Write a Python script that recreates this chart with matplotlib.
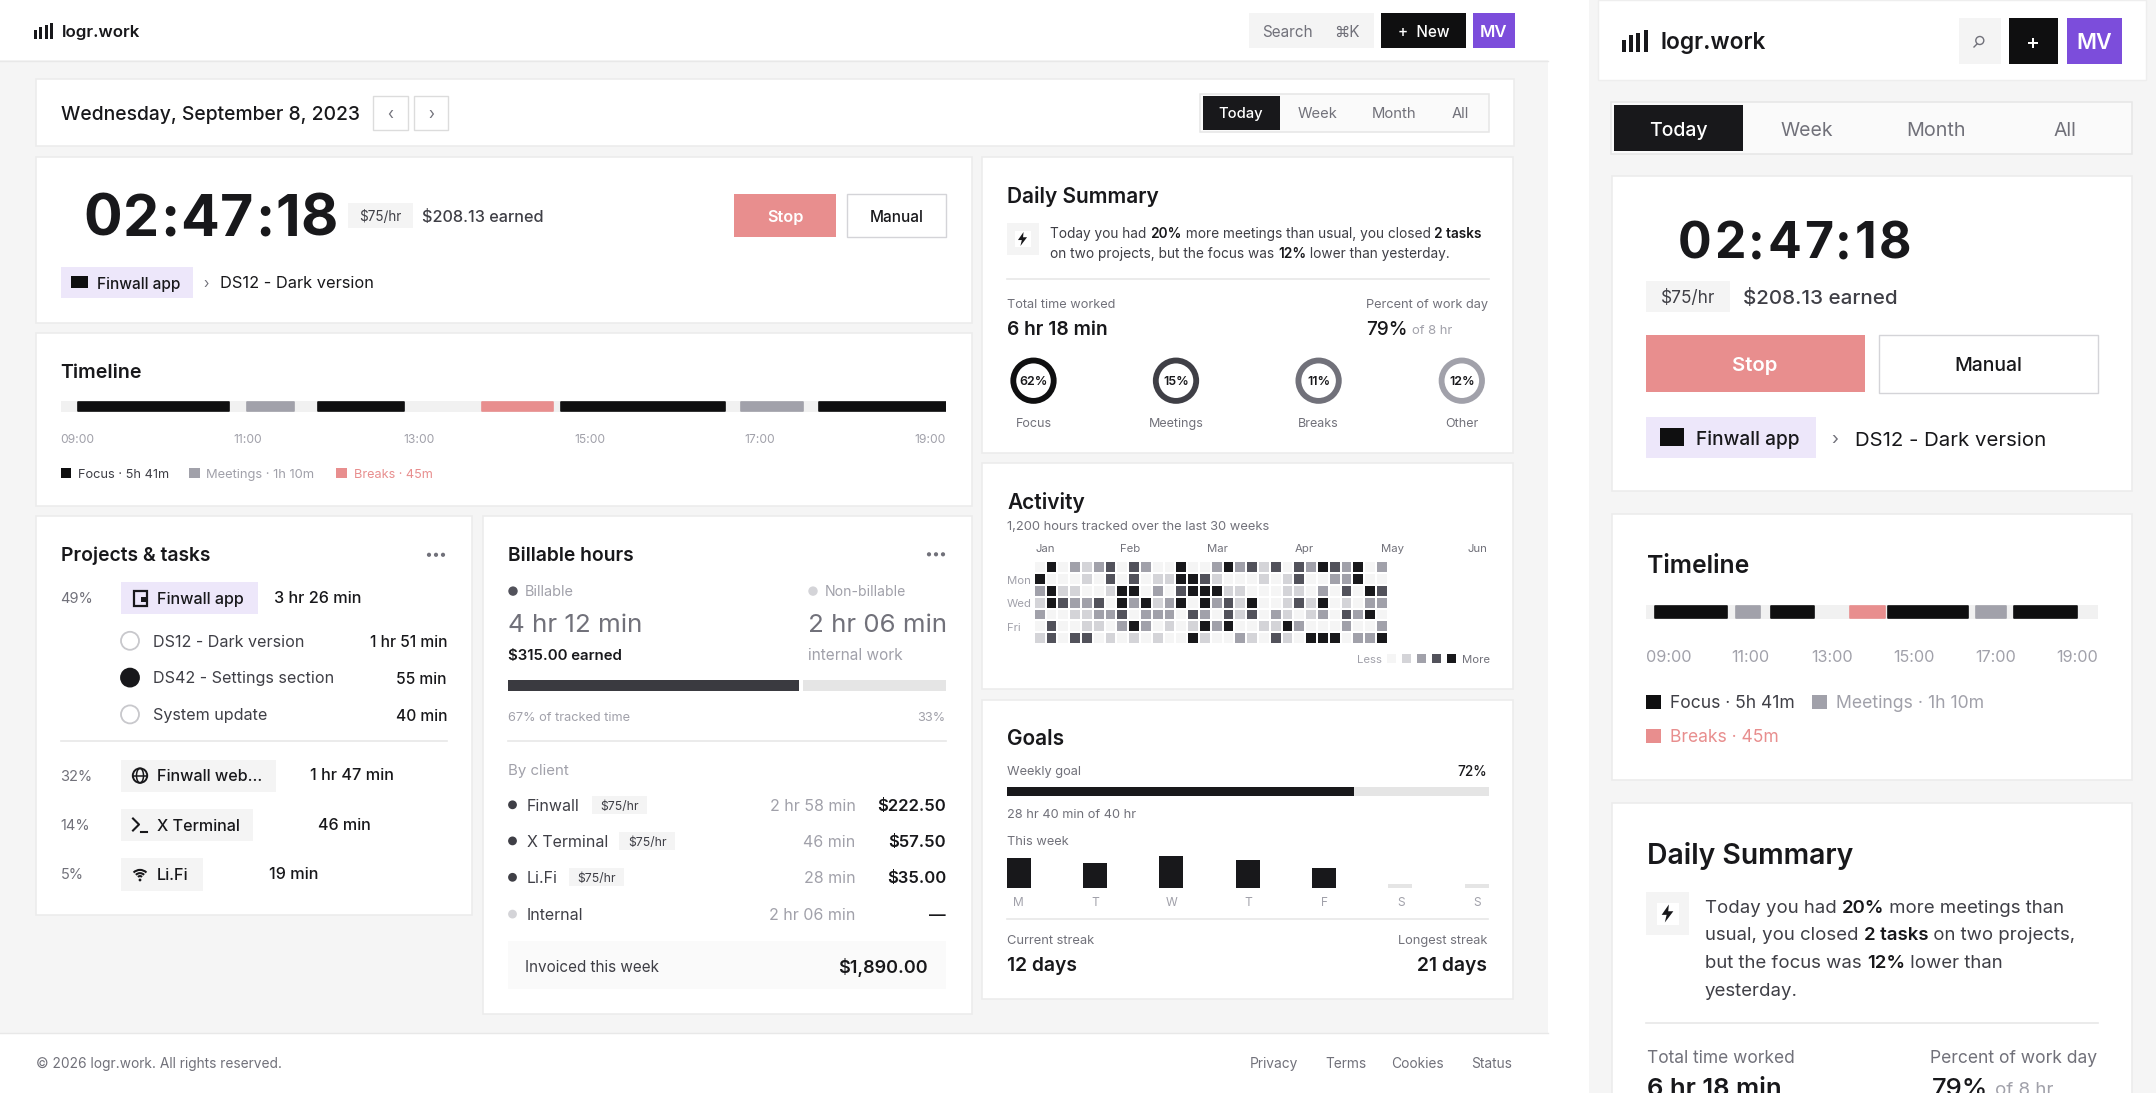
import numpy as np
import matplotlib
matplotlib.use("Agg")
import matplotlib.pyplot as plt
from matplotlib.colors import ListedColormap
from matplotlib.patches import Rectangle, Circle, Polygon, Arc, FancyBboxPatch

plt.rcParams['font.family'] = ['Inter', 'DejaVu Sans']

W, H = 2156, 1093
INK = '#18181b'
BODY = '#3f3f46'
MUTED = '#71717a'
LIGHT = '#a1a1aa'
BORDER = '#ececec'
PAGE = '#f5f5f5'
LILAC = '#ede7fa'
RED = '#e88e8e'
PURPLE = '#7c4ddb'

# timeline, in hours of the day
segment_kinds = ['focus', 'meeting', 'focus', 'break', 'focus', 'meeting', 'focus']
wide_starts = [9.20, 11.11, 11.91, 13.76, 14.65, 16.68, 17.56]
wide_ends = [10.90, 11.64, 12.88, 14.56, 16.50, 17.38, 19.00]
narrow_starts = [9.19, 11.00, 11.77, 13.52, 14.35, 16.30, 17.14]
narrow_ends = [10.80, 11.52, 12.71, 14.29, 16.13, 16.97, 18.55]
hour_labels = ['09:00', '11:00', '13:00', '15:00', '17:00', '19:00']
kind_colors = {'focus': '#0f0f10', 'meeting': LIGHT, 'break': RED}

# daily summary rings
ring_values = [62, 15, 11, 12]
ring_names = ['Focus', 'Meetings', 'Breaks', 'Other']
ring_colors = ['#0f0f10', '#3f3f46', '#71717a', '#a1a1aa']

# activity levels, one row per weekday, one column per week
activity = np.array([
    [0, 4, 0, 2, 1, 2, 3, 0, 3, 2, 0, 0, 4, 0, 0, 2, 4, 2, 3, 1, 3, 0, 3, 2, 4, 3, 2, 4, 0, 2],
    [4, 0, 0, 0, 1, 0, 3, 0, 3, 0, 1, 1, 4, 4, 3, 1, 0, 0, 0, 1, 0, 1, 3, 0, 0, 2, 2, 4, 0, 0],
    [2, 4, 1, 1, 0, 0, 1, 4, 4, 0, 2, 0, 3, 4, 4, 4, 1, 1, 0, 0, 0, 1, 1, 0, 2, 0, 3, 0, 4, 3],
    [1, 4, 3, 2, 2, 3, 0, 4, 2, 4, 1, 2, 4, 0, 4, 2, 3, 1, 4, 0, 0, 1, 3, 1, 4, 0, 1, 0, 2, 2],
    [2, 0, 0, 1, 1, 2, 2, 3, 0, 2, 2, 2, 0, 3, 2, 0, 3, 1, 3, 0, 2, 1, 0, 1, 2, 0, 3, 2, 4, 0],
    [0, 3, 0, 0, 1, 1, 0, 2, 4, 2, 0, 1, 0, 1, 4, 2, 4, 0, 0, 1, 1, 4, 2, 0, 0, 0, 2, 0, 0, 2],
    [1, 3, 0, 3, 3, 0, 1, 0, 1, 0, 1, 0, 0, 4, 1, 0, 0, 2, 1, 0, 3, 1, 0, 4, 4, 4, 0, 2, 2, 4],
])
level_colors = ['#f5f5f5', '#d4d4d8', '#a1a1aa', '#52525b', '#18181b']
month_names = ['Jan', 'Feb', 'Mar', 'Apr', 'May', 'Jun']
month_x = [1035, 1120.4, 1207.5, 1295, 1380.7, 1487]

# goals
week_days = ['M', 'T', 'W', 'T', 'F', 'S', 'S']
week_hours = [6.9, 5.9, 7.4, 6.4, 4.7, 1.0, 1.0]
goal_percent = 72

# billable
billable_percent = 67
client_names = ['Finwall', 'X Terminal', 'Li.Fi', 'Internal']
client_times = ['2 hr 58 min', '46 min', '28 min', '2 hr 06 min']
client_amounts = ['$222.50', '$57.50', '$35.00', '—']

fig = plt.figure(figsize=(W / 100, H / 100), dpi=100, facecolor='white')
ax = fig.add_axes([0, 0, 1, 1])
ax.set_xlim(0, W)
ax.set_ylim(H, 0)
ax.axis('off')


def box(x0, y0, x1, y1, color='white', edge=None, lw=1.0, z=1, a=ax):
    a.add_patch(Rectangle((x0, y0), x1 - x0, y1 - y0, facecolor=color,
                          edgecolor=edge if edge else 'none', linewidth=lw, zorder=z))


def card(x0, y0, x1, y1):
    box(x0, y0, x1, y1, 'white', BORDER, 1.2)


def label(x, yc, s, size, color=INK, weight='normal', ha='left'):
    # yc is the middle of the capital letters
    base = yc + 0.3636 * size / 0.72
    return ax.text(x, base, s, fontsize=size, color=color, fontweight=weight,
                   ha=ha, va='baseline', zorder=5)


def rich(x, yc, parts, size, color=BODY):
    rend = fig.canvas.get_renderer()
    for s, bold in parts:
        t = label(x, yc, s, size, INK if bold else color, 'semibold' if bold else 'normal')
        x += t.get_window_extent(rend).width


def spaced(x, yc, s, size, gap, weight='bold'):
    # timer digits have a little letter spacing
    rend = fig.canvas.get_renderer()
    for ch in s:
        t = label(x, yc, ch, size, INK, weight)
        x += t.get_window_extent(rend).width + gap


def sub_axes(x0, y0, x1, y1, xlim, ylim):
    a = fig.add_axes([x0 / W, 1 - y1 / H, (x1 - x0) / W, (y1 - y0) / H])
    a.set_xlim(*xlim)
    a.set_ylim(*ylim)
    a.axis('off')
    a.patch.set_alpha(0)
    return a


def logo(x, y, scale):
    for i, h in enumerate([9, 12, 14, 16]):
        box(x + i * 5.4 * scale, y + (16 - h) * scale, x + (i * 5.4 + 3) * scale, y + 16 * scale, INK, z=4)


def timeline(x0, x1, y0, y1, starts, ends):
    a = sub_axes(x0, y0, x1, y1, (9, 19), (0, 1))
    a.add_patch(FancyBboxPatch((9, 0), 10, 1, boxstyle='square,pad=0', facecolor='#f1f1f1', edgecolor='none'))
    for s, e, k in zip(starts, ends, segment_kinds):
        a.barh(0.5, e - s, left=s, height=0.86, color=kind_colors[k],
               edgecolor=kind_colors[k], linewidth=1.2, joinstyle='round')


def bolt(cx, cy, s):
    pts = [(0.15, -1), (-0.65, 0.15), (-0.1, 0.15), (-0.3, 1), (0.65, -0.25), (0.08, -0.25)]
    ax.add_patch(Polygon([(cx + px * s, cy + py * s) for px, py in pts], facecolor=INK, zorder=5))


def dots(x, y):
    for i in range(3):
        ax.add_patch(Circle((x + i * 7, y), 2.1, facecolor=MUTED, zorder=5))


# page backgrounds
box(0, 0, 1548, H, PAGE, z=0)
box(1588.5, 0, W, H, PAGE, z=0)

# ---- wide layout ----
box(0, 0, 1548, 60, 'white', z=1)
ax.plot([0, 1548], [60.5, 60.5], color='#e8e8e8', lw=1, zorder=2)
logo(34, 23, 1.0)
label(62, 31, 'logr.work', 12.2, INK, 'semibold')

box(1249, 13, 1374, 48, '#f4f4f4')
label(1262, 31, 'Search', 11, MUTED)
label(1360, 31, '⌘K', 11, MUTED, ha='right')
box(1381.4, 13, 1466, 48, '#0f0f10')
label(1423.5, 31, '+  New', 11, 'white', 'medium', 'center')
box(1472.5, 13, 1514.6, 48, PURPLE)
label(1493.5, 31, 'MV', 12, 'white', 'semibold', 'center')

card(36, 79, 1514, 146)
label(60.6, 113, 'Wednesday, September 8, 2023', 13.9, INK, 'medium')
box(373, 96, 407.5, 130, 'white', '#dcdcdc', 1.0)
box(414, 96, 448, 130, 'white', '#dcdcdc', 1.0)
label(390, 113, '‹', 11, MUTED, ha='center')
label(431, 113, '›', 11, MUTED, ha='center')
box(1200.4, 93.7, 1488.6, 132, '#fafafa', '#e6e6e6', 1.1)
box(1202.7, 96, 1280, 129.7, INK, z=2)
label(1241, 113, 'Today', 10.6, 'white', 'medium', 'center')
label(1317.5, 113, 'Week', 10.6, MUTED, ha='center')
label(1393.6, 113, 'Month', 10.7, MUTED, ha='center')
label(1460, 113, 'All', 10.6, MUTED, ha='center')

# timer card
card(36, 157, 972, 323)
spaced(83.5, 215, '02:47:18', 41.3, 1.0)
box(347.5, 203, 413, 228, '#f4f4f4')
label(380, 216, '$75/hr', 9.7, BODY, ha='center')
label(422, 216, '$208.13 earned', 11.7, BODY, 'medium')
box(734, 194, 836, 237, RED)
label(785, 216, 'Stop', 11.8, 'white', 'semibold', 'center')
box(847, 194, 946, 237, 'white', '#d4d4d8', 1.0)
label(896.5, 216, 'Manual', 11, INK, 'medium', 'center')
box(60.6, 267, 192.5, 298, LILAC)
box(71, 276, 88, 288, '#0f0f10', z=3)
label(97, 283, 'Finwall app', 11.1, INK, 'medium')
label(206, 283, '›', 10, MUTED, ha='center')
label(220, 282, 'DS12 - Dark version', 11.8, INK)

# timeline card
card(36, 333, 972, 506)
label(60.6, 371, 'Timeline', 14.1, INK, 'semibold')
timeline(60.6, 946, 401, 412, wide_starts, wide_ends)
for s, x, ha in zip(hour_labels, [60.6, 247.7, 418.5, 589.5, 760, 946], ['left', 'center', 'center', 'center', 'center', 'right']):
    label(x, 439, s, 8.7, LIGHT, ha=ha)
box(60.6, 468, 71, 478, '#0f0f10')
label(77.5, 473, 'Focus · 5h 41m', 9.2, BODY)
box(189, 468, 200, 478, LIGHT)
label(206, 473, 'Meetings · 1h 10m', 9.3, LIGHT)
box(336, 468, 347, 478, RED)
label(354, 473, 'Breaks · 45m', 9.1, RED)

# projects card
card(36, 516, 472, 914.9)
label(60.6, 553.8, 'Projects & tasks', 13.9, INK, 'semibold')
dots(429, 554.8)
label(60.6, 598.1, '49%', 10.5, MUTED)
box(120.6, 582.1, 258, 614, LILAC)
box(134, 590.5, 147, 605.5, 'none', INK, 1.6, z=4)
box(141, 596.5, 147, 601.5, INK, z=4)
label(157, 598.1, 'Finwall app', 11.6, INK, 'medium')
label(274, 597.5, '3 hr 26 min', 11.7, INK, 'medium')
task_names = ['DS12 - Dark version', 'DS42 - Settings section', 'System update']
task_times = ['1 hr 51 min', '55 min', '40 min']
for i, (n, t, y) in enumerate(zip(task_names, task_times, [640.8, 677.6, 714.4])):
    ax.add_patch(Circle((130, y), 9, facecolor=INK if i == 1 else 'white',
                        edgecolor=INK if i == 1 else '#c8c8cc', lw=1.3, zorder=4))
    label(153, y, n, 11.6, BODY)
    label(447, y + 0.8, t, 11.2, INK, 'medium', 'right')
ax.plot([60.6, 447], [741.2, 741.2], color='#e8e8e8', lw=1.2, zorder=3)
label(60.6, 775.6, '32%', 10.5, MUTED)
box(120.6, 759.7, 276, 791.5, '#f4f4f4')
label(157, 775.6, 'Finwall web...', 11.6, INK, 'medium')
label(310, 774.4, '1 hr 47 min', 11.7, INK, 'medium')
ax.add_patch(Circle((140, 775.6), 7.2, facecolor='none', edgecolor=INK, lw=1.4, zorder=4))
ax.add_patch(Arc((140, 775.6), 7, 14.4, edgecolor=INK, lw=1.1, zorder=4))
ax.plot([133, 147], [775.6, 775.6], color=INK, lw=1.1, zorder=4)
label(60.6, 824.9, '14%', 10.5, MUTED)
box(120.6, 808.8, 253, 840.9, '#f4f4f4')
ax.plot([133, 139, 133], [818.5, 824.5, 830.5], color=INK, lw=1.5, zorder=4)
ax.plot([141, 147], [831.5, 831.5], color=INK, lw=1.5, zorder=4)
label(157, 824.9, 'X Terminal', 11.6, INK, 'medium')
label(317.5, 823.8, '46 min', 11.6, INK, 'medium')
label(60.6, 874, '5%', 10.5, MUTED)
box(120.6, 858.2, 202.5, 890.6, '#f4f4f4')
for r in [14, 9, 4.5]:
    ax.add_patch(Arc((140, 879), r * 1.3, r * 1.3, theta1=225, theta2=315, edgecolor=INK, lw=1.5, zorder=4))
ax.add_patch(Circle((140, 880), 1.4, facecolor=INK, zorder=4))
label(157, 874, 'Li.Fi', 11.6, INK, 'medium')
label(269, 873, '19 min', 11.7, INK, 'medium')

# billable card
card(483, 516, 972, 1014.4)
label(507.5, 553.8, 'Billable hours', 13.9, INK, 'semibold')
dots(929, 554.3)
ax.add_patch(Circle((513, 591.1), 4.7, facecolor='#52525b', zorder=4))
label(525, 591.1, 'Billable', 10.4, LIGHT)
ax.add_patch(Circle((813, 591.1), 4.7, facecolor='#d4d4d8', zorder=4))
label(825, 591.1, 'Non-billable', 10.1, LIGHT)
label(507.5, 622.4, '4 hr 12 min', 18.7, MUTED)
label(808, 622.4, '2 hr 06 min', 18.6, MUTED)
label(507.5, 654.2, '$315.00 earned', 10.8, INK, 'semibold')
label(808, 654.2, 'internal work', 11.1, LIGHT)
bill = sub_axes(507.5, 679.8, 946, 691.2, (0, 100), (0, 1))
bill.barh(0.5, billable_percent - 0.5, height=1, color='#3a3a40')
bill.barh(0.5, 100 - billable_percent - 0.5, left=billable_percent + 0.5, height=1, color='#e5e5e5')
label(507.5, 716.3, f'{billable_percent}% of tracked time', 9.2, LIGHT)
label(945, 716.3, f'{100 - billable_percent}%', 9.2, LIGHT, ha='right')
ax.plot([507.5, 946], [741.2, 741.2], color='#e8e8e8', lw=1.2, zorder=3)
label(507.5, 769.6, 'By client', 10.8, LIGHT)
row_y = [804.8, 840.9, 877.3, 914.1]
badge_x = [(592, 647), (619.4, 675), (569, 624.4), None]
for i, (n, t, a_, y, b) in enumerate(zip(client_names, client_times, client_amounts, row_y, badge_x)):
    ax.add_patch(Circle((512.5, y), 4.4, facecolor='#d4d4d8' if i == 3 else '#3f3f46', zorder=4))
    label(527, y, n, 11.5, BODY)
    if b:
        box(b[0], y - 9, b[1], y + 9, '#f4f4f4')
        label(sum(b) / 2, y + 0.5, '$75/hr', 8.8, BODY, ha='center')
    label(855.6, y, t, 11.5, LIGHT, ha='right')
    label(946, y, a_, 12, INK, 'semibold', 'right')
box(507.5, 941.2, 946, 988.8, '#fafafa')
label(525, 966.1, 'Invoiced this week', 11, BODY)
label(928, 966.1, '$1,890.00', 13, INK, 'semibold', 'right')

# daily summary card
card(981.5, 157, 1513.4, 452.7)
label(1007, 195, 'Daily Summary', 15, INK, 'semibold')
box(1007, 222.7, 1039, 254.7, '#f4f4f4')
box(1015, 230.7, 1031, 246.7, 'white', z=3)
bolt(1022.5, 239, 7)
rich(1050, 233, [('Today you had ', False), ('20%', True), (' more meetings than usual, you closed ', False), ('2 tasks', True)], 9.85)
rich(1050, 253, [('on two projects, but the focus was ', False), ('12%', True), (' lower than yesterday.', False)], 9.85)
ax.plot([1007, 1489], [279.3, 279.3], color='#e8e8e8', lw=1.2, zorder=3)
label(1007, 303.3, 'Total time worked', 9.2, MUTED)
label(1488, 303.3, 'Percent of work day', 9.2, MUTED, ha='right')
label(1007, 328, '6 hr 18 min', 13.8, INK, 'semibold')
label(1366, 328, '79%', 13.6, INK, 'medium')
label(1412.4, 329, 'of 8 hr', 9.4, LIGHT)
for v, n, c, x in zip(ring_values, ring_names, ring_colors, [1033.5, 1176, 1318.6, 1461.8]):
    ax.add_patch(Circle((x, 380.7), 20.2, facecolor='white', edgecolor=c, lw=4.2, zorder=4))
    label(x, 380.7, f'{v}%', 9, INK, 'semibold', 'center')
    label(x, 422, n, 9, MUTED, ha='center')

# activity card
card(981.8, 463, 1513, 689)
label(1007, 501.7, 'Activity', 15, INK, 'semibold')
label(1007, 525, '1,200 hours tracked over the last 30 weeks', 9.3, MUTED)
for s, x in zip(month_names, month_x):
    label(x, 548, s, 8.2, MUTED, ha='right' if s == 'Jun' else 'left')
for s, y in zip(['Mon', 'Wed', 'Fri'], [579.7, 603, 626.7]):
    label(1007, y, s, 8.2, LIGHT)
heat = sub_axes(1033.7, 561.3, 1387.7, 643.9, (0, 30), (7, 0))
heat.pcolormesh(np.arange(31), np.arange(8), activity, cmap=ListedColormap(level_colors),
                vmin=-0.5, vmax=4.5, edgecolors='white', linewidth=1.3)
label(1357.5, 659, 'Less', 8.2, LIGHT)
label(1461.8, 659, 'More', 8.2, MUTED)
for c, x in zip(level_colors, [1386.8, 1401.8, 1416.8, 1431.8, 1446.8]):
    box(x, 654, x + 9.6, 663.3, c)

# goals card
card(982, 700, 1513, 999.3)
label(1007, 737.7, 'Goals', 15, INK, 'semibold')
label(1007, 770.7, 'Weekly goal', 9.2, MUTED)
label(1487, 770.7, f'{goal_percent}%', 9.8, INK, 'medium', 'right')
goal = sub_axes(1006.8, 787.3, 1488.6, 796, (0, 100), (0, 1))
goal.barh(0.5, 100, height=1, color='#e5e5e5')
goal.barh(0.5, goal_percent, height=1, color=INK)
label(1007, 813, '28 hr 40 min of 40 hr', 9.2, MUTED)
label(1007, 840, 'This week', 9.2, MUTED)
bars = sub_axes(1006.8, 850, 1488.6, 888.3, (-0.157, 6.157), (0, 8.78))
bars.bar(np.arange(7), week_hours, width=0.314, color=[INK] * 5 + ['#e5e5e5'] * 2)
for i, s in enumerate(week_days):
    label(1018.8 + i * 76.4, 902, s, 8.6, LIGHT, ha='center')
ax.plot([1007, 1488], [919.3, 919.3], color='#e8e8e8', lw=1.2, zorder=3)
label(1007, 939, 'Current streak', 9.3, MUTED)
label(1487, 939, 'Longest streak', 9.2, MUTED, ha='right')
label(1007, 963.7, '12 days', 13.9, INK, 'semibold')
label(1487, 963.7, '21 days', 13.9, INK, 'semibold', 'right')

# footer
box(0, 1033.4, 1548, H, 'white')
ax.plot([0, 1548], [1033.4, 1033.4], color='#e8e8e8', lw=1, zorder=2)
label(36, 1063, '© 2026 logr.work. All rights reserved.', 9.9, MUTED)
for s, x in zip(['Privacy', 'Terms', 'Cookies', 'Status'], [1250, 1325.5, 1391.5, 1471]):
    label(x, 1063, s, 9.9, MUTED)

# ---- narrow layout ----
box(1598, 0, 2145.6, 80, 'white', '#eeeeee', 1)
logo(1621.6, 30, 1.36)
label(1660.4, 41, 'logr.work', 16.4, INK, 'semibold')
box(1959, 17.7, 2001, 63.7, '#f4f4f4')
ax.add_patch(Circle((1979.8, 40.5), 4, facecolor='none', edgecolor=MUTED, lw=1, zorder=4))
ax.plot([1977, 1974], [44, 47], color=MUTED, lw=1, zorder=4)
box(2009.4, 17.7, 2057.7, 63.7, '#0f0f10')
label(2033.5, 42, '+', 15, 'white', 'medium', 'center')
box(2066.5, 17.7, 2122, 63.7, PURPLE)
label(2094, 41, 'MV', 15.5, 'white', 'semibold', 'center')

box(1611.3, 102.3, 2132, 154, '#fafafa', '#e6e6e6', 1.1)
box(1614, 105, 1742.5, 151, INK, z=2)
label(1677.9, 128.7, 'Today', 14, 'white', 'medium', 'center')
label(1807, 128.7, 'Week', 14, MUTED, ha='center')
label(1936, 128.7, 'Month', 14.2, MUTED, ha='center')
label(2065, 128.7, 'All', 14, MUTED, ha='center')

card(1612, 175.7, 2131.5, 491.3)
spaced(1677.9, 240, '02:47:18', 36, 2.5)
box(1646, 281, 1730, 311.7, '#f4f4f4')
label(1688, 297, '$75/hr', 12.4, BODY, ha='center')
label(1743, 297, '$208.13 earned', 14.8, BODY, 'medium')
box(1646, 335, 1864.6, 392, RED)
label(1755, 364, 'Stop', 14.6, 'white', 'semibold', 'center')
box(1879.4, 335, 2097.6, 393, 'white', '#d4d4d8', 1.0)
label(1988.5, 364, 'Manual', 14, INK, 'medium', 'center')
box(1646, 416.7, 1816.3, 457.7, LILAC)
box(1660.4, 428.3, 1684, 445.7, '#0f0f10', z=3)
label(1695.7, 438.3, 'Finwall app', 13.7, INK, 'medium')
label(1834.5, 438.3, '›', 13, MUTED, ha='center')
label(1854.7, 438.3, 'DS12 - Dark version', 14.7, INK)

card(1612, 513.7, 2131.5, 780)
label(1646.7, 564, 'Timeline', 17.8, INK, 'semibold')
timeline(1646, 2097.6, 604.8, 619.3, narrow_starts, narrow_ends)
for s, x in zip(hour_labels, [1646.3, 1731, 1811.3, 1893.5, 1975, 2056]):
    label(x, 655.7, s, 11.7, LIGHT)
box(1646, 695, 1660.8, 709, '#0f0f10')
label(1669.5, 702, 'Focus · 5h 41m', 12.6, BODY)
box(1812, 695, 1827, 709, LIGHT)
label(1835.7, 702, 'Meetings · 1h 10m', 12.7, LIGHT)
box(1646, 728.6, 1660.8, 742.6, RED)
label(1669.5, 735.6, 'Breaks · 45m', 12.6, RED)

card(1612, 803, 2131.5, H + 40)
label(1646.7, 854, 'Daily Summary', 20.4, INK, 'semibold')
box(1646, 891.8, 1689, 935, '#f4f4f4')
box(1657, 903, 1679, 924.5, 'white', z=3)
bolt(1667.5, 913.5, 9)
rich(1705, 906, [('Today you had ', False), ('20%', True), (' more meetings than', False)], 13.4)
rich(1705, 933.4, [('usual, you closed ', False), ('2 tasks', True), (' on two projects,', False)], 13.4)
rich(1705, 961, [('but the focus was ', False), ('12%', True), (' lower than', False)], 13.4)
rich(1705, 988.8, [('yesterday.', False)], 13.4)
ax.plot([1646, 2097.6], [1023.4, 1023.4], color='#e8e8e8', lw=1.2, zorder=3)
label(1646.7, 1056.5, 'Total time worked', 12.5, MUTED)
label(2097, 1056.5, 'Percent of work day', 12.6, MUTED, ha='right')
label(1646.7, 1087, '6 hr 18 min', 18.5, INK, 'semibold')
label(1932, 1087, '79%', 18.5, INK, 'medium')
label(1994.6, 1088, 'of 8 hr', 13.5, LIGHT)

fig.savefig('out.png', dpi=100)
